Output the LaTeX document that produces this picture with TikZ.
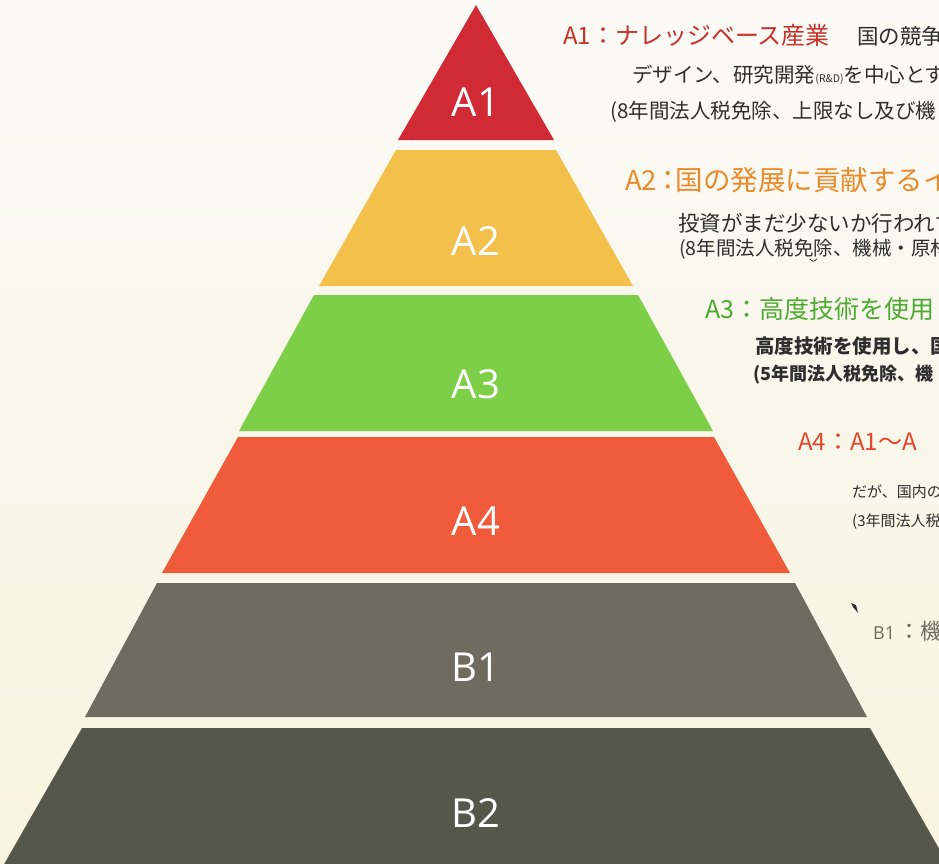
\documentclass[tikz,border=0pt]{standalone}
\usepackage{fontspec}
\setmainfont{Open Sans}
\newfontfamily\jp{Noto Sans CJK JP}
\usetikzlibrary{positioning}

\definecolor{bandAone}{HTML}{D02A34}
\definecolor{bandAtwo}{HTML}{F3C04B}
\definecolor{bandAthree}{HTML}{7DCF48}
\definecolor{bandAfour}{HTML}{EF5B3B}
\definecolor{bandBone}{HTML}{6F6B5F}
\definecolor{bandBtwo}{HTML}{56574B}
\definecolor{headAone}{HTML}{C8302A}
\definecolor{headAtwo}{HTML}{E98A2B}
\definecolor{headAthree}{HTML}{4BAA2F}
\definecolor{headAfour}{HTML}{E5432A}
\definecolor{bodytext}{HTML}{2E2E2E}
\definecolor{papertop}{HTML}{FBFAF6}
\definecolor{paperbot}{HTML}{F8F4DF}

\tikzset{
  bandlabel/.style={text=white, anchor=base, font=\fontsize{40}{40}\selectfont, inner sep=0pt},
  head/.style={anchor=base west, inner sep=0pt, font=\jp\fontsize{24}{24}\selectfont},
  body/.style={anchor=base west, inner sep=0pt, text=bodytext, font=\jp\fontsize{19.5}{20}\selectfont},
  smallbody/.style={anchor=base west, inner sep=0pt, text=bodytext, font=\jp\fontsize{15}{15}\selectfont}
}

\begin{document}
\begin{tikzpicture}[x=1pt,y=-1pt]
    % Paper
    \useasboundingbox (0,0) rectangle (939,864);
    \shade[top color=papertop, bottom color=paperbot] (0,0) rectangle (939,864);
    \clip (0,0) rectangle (939,864);

    % Pyramid bands: name / top y / bottom y / top half width / bottom half width / label baseline
    \foreach \name/\yt/\yb/\ht/\hb/\ym/\col in {A1/5/140/0/78/117/bandAone, A2/150/286/80/157/255/bandAtwo, A3/295/431/162/237/398/bandAthree, A4/437/573/238/314/535/bandAfour, B1/583/717/319/391/681/bandBone, B2/728/880/394/481/827/bandBtwo} {
      \fill[\col] ({476-\ht},\yt) -- ({476+\ht},\yt) -- ({476+\hb},\yb) -- ({476-\hb},\yb) -- cycle;
      \node[bandlabel] (lbl\name) at (476,\ym) {\name};
    }

    % A1 text
    \node[head, text=headAone] (headA1) at (563,45) {A1：ナレッジベース産業};
    \node[body, font=\jp\fontsize{21.5}{22}\selectfont] (bodyA1) at (857,45) {国の競争};
    \node[body, font=\jp\fontsize{20.5}{21}\selectfont] (bodyA1a) at (632,83) {デザイン、研究開発{\fontsize{10.5}{10.5}\selectfont(R\&D)}を中心とす};
    \node[body, font=\jp\fontsize{20.5}{21}\selectfont] (bodyA1b) at (610,118) {(8年間法人税免除、上限なし及び機};

    % A2 text
    \node[head, text=headAtwo, font=\jp\fontsize{27.5}{28}\selectfont] (headA2) at (625,190) {A2\hspace{-3pt}：\hspace{-6pt}国の発展に貢献するイ};
    \node[body, font=\jp\fontsize{21.5}{22}\selectfont] (bodyA2a) at (678,231) {投資がまだ少ないか行われず};
    \node[body] (bodyA2b) at (679,255) {(8年間法人税免除、機械・原材};
    \draw[bodytext, line width=0.8pt] (810,259) .. controls (813,262) .. (817,259);

    % A3 text
    \node[head, text=headAthree, font=\jp\fontsize{25}{25}\selectfont] (headA3) at (705,318) {A3：高度技術を使用};
    \node[body, font=\jp\bfseries\fontsize{19.5}{20}\selectfont] (bodyA3a) at (755,353) {高度技術を使用し、国};
    \node[body, font=\jp\bfseries\fontsize{18}{18}\selectfont] (bodyA3b) at (753,380) {(5年間法人税免除、機};

    % A4 text
    \node[head, text=headAfour] (headA4) at (798,450) {A4：A1〜A};
    \node[smallbody] (bodyA4a) at (852,497) {だが、国内の};
    \node[smallbody] (bodyA4b) at (852,526) {(3年間法人税};

    % B1 text
    \node[head, text=bandBone, font=\fontsize{18}{18}\selectfont] (headB1) at (873,639) {B1\,{\jp\fontsize{22}{22}\selectfont：機}};
    \fill[bodytext] (851,603) -- (856,605) -- (858,613) -- (853,607) -- cycle;
\end{tikzpicture}
\end{document}
